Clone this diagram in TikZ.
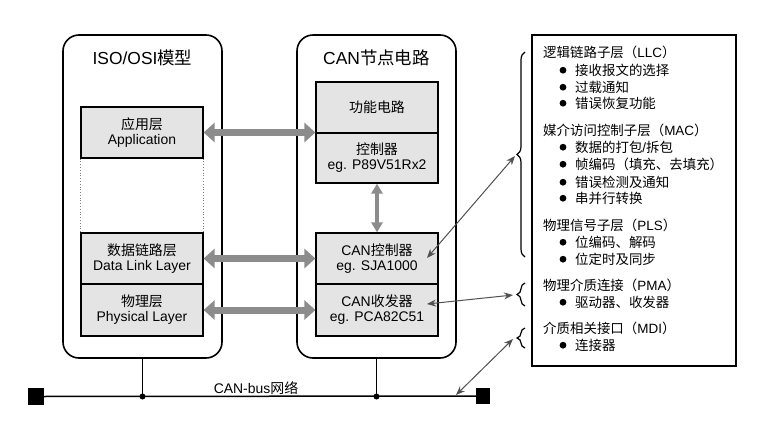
\documentclass[tikz,border=0pt]{standalone}
\usepackage{fontspec}
\setmainfont{Liberation Sans}
\newfontfamily\cjk{Noto Sans CJK SC}
\usetikzlibrary{arrows.meta,decorations.pathreplacing,calc}
\definecolor{boxgray}{HTML}{E4E4E4}
\definecolor{arrgray}{HTML}{8C8C8C}
\definecolor{thingray}{HTML}{505050}
\begin{document}
\begin{tikzpicture}[x=1bp,y=-1bp,
  outer/.style={draw,line width=1.6bp,rounded corners=16bp,minimum width=159bp,minimum height=323bp,inner sep=0},
  layer/.style={draw,line width=1.2bp,fill=boxgray,minimum width=122bp,inner sep=0,align=center,font=\fontsize{14}{15}\selectfont},
  ttl/.style={font=\fontsize{17.5}{20}\selectfont,inner sep=0,anchor=base},
  fat/.style={arrgray,line width=7bp,{Triangle[width=19bp,length=11bp]}-{Triangle[width=19bp,length=11bp]}},
  mid/.style={arrgray,line width=3.5bp,{Triangle[width=11bp,length=10bp]}-{Triangle[width=11bp,length=10bp]}},
  thin/.style={thingray,line width=1bp,{Stealth[length=9bp,width=7bp]}-{Stealth[length=9bp,width=7bp]}},
  brc/.style={decorate,decoration={brace,amplitude=8bp},line width=1.2bp},
  info/.style={font=\fontsize{13.5}{17}\selectfont,inner sep=0,anchor=base west},
  dot/.style={circle,fill,inner sep=0,minimum size=6bp},
  busend/.style={fill,inner sep=0},
]
\useasboundingbox (0,0) rectangle (760,424);

% outer containers
\node[outer] (osi) at (142.5,196.5) {};
\node[outer] (can) at (376.5,196.5) {};
\node[ttl] (osit) at (142.5,64) {ISO/OSI{\cjk 模型}};
\node[ttl] (cant) at (376.5,64) {CAN{\cjk 节点电路}};

% ISO/OSI layers
\node[layer,minimum height=51bp] (app) at (142,132.5) {{\cjk 应用层}\\Application};
\node[layer,minimum height=51bp] (dll) at (142,258.5) {{\cjk 数据链路层}\\Data Link Layer};
\node[layer,minimum height=52bp] (phy) at (142,310) {{\cjk 物理层}\\Physical Layer};
\draw[gray,dotted,line width=0.8bp] (app.south west) -- (dll.north west);
\draw[gray,dotted,line width=0.8bp] (app.south east) -- (dll.north east);

% CAN node blocks
\node[layer,minimum height=51bp] (func) at (377,107.5) {{\cjk 功能电路}};
\node[layer,minimum height=50bp] (ctrl) at (377,158) {{\cjk 控制器}\\eg. P89V51Rx2};
\node[layer,minimum height=51bp] (canc) at (377,258.5) {CAN{\cjk 控制器}\\eg. SJA1000};
\node[layer,minimum height=52bp] (cant2) at (377,310) {CAN{\cjk 收发器}\\eg. PCA82C51};

% thick gray arrows
\draw[fat] (app.east) -- (app.east -| func.west);
\draw[fat] (dll.east) -- (dll.east -| canc.west);
\draw[fat] (phy.east) -- (phy.east -| cant2.west);
\draw[mid] (ctrl.south) -- (canc.north);

% bus
\node[busend,minimum width=16bp,minimum height=17bp] (busL) at (36,396.5) {};
\node[busend,minimum width=14bp,minimum height=16bp] (busR) at (483,396) {};
\draw[line width=1.5bp] (busL) -- (busR);
\node[dot] (j1) at (osi.south |- busL.center) {};
\node[dot] (j2) at (can.south |- busL.center) {};
\draw[line width=1.5bp] (osi.south) -- (j1.center);
\draw[line width=1.5bp] (can.south) -- (j2.center);
\node[font=\fontsize{14}{16}\selectfont,inner sep=0,anchor=base] (buslbl) at (256,393.5) {CAN-bus{\cjk 网络}};

% right info box
\node[draw,line width=1.4bp,minimum width=204bp,minimum height=331bp,inner sep=0] (ibox) at (634,200.5) {};
\node[info] (t1) at (543,57) {{\cjk 逻辑链路子层（}LLC{\cjk ）}};
\node[info] (t2) at (575,75) {{\cjk 接收报文的选择}};
\node[info] (t3) at (575,92) {{\cjk 过载通知}};
\node[info] (t4) at (575,108) {{\cjk 错误恢复功能}};
\node[info] (t5) at (543,135) {{\cjk 媒介访问控制子层（}MAC{\cjk ）}};
\node[info] (t6) at (575,152) {{\cjk 数据的打包}/{\cjk 拆包}};
\node[info] (t7) at (575,169) {{\cjk 帧编码（填充、去填充）}};
\node[info] (t8) at (575,187) {{\cjk 错误检测及通知}};
\node[info] (t9) at (575,203) {{\cjk 串并行转换}};
\node[info] (t10) at (543,230) {{\cjk 物理信号子层（}PLS{\cjk ）}};
\node[info] (t11) at (575,247) {{\cjk 位编码、解码}};
\node[info] (t12) at (575,264) {{\cjk 位定时及同步}};
\node[info] (t13) at (543,290) {{\cjk 物理介质连接（}PMA{\cjk ）}};
\node[info] (t14) at (575,307) {{\cjk 驱动器、收发器}};
\node[info] (t15) at (543,333) {{\cjk 介质相关接口（}MDI{\cjk ）}};
\node[info] (t16) at (575,350) {{\cjk 连接器}};
\foreach \t in {t2,t3,t4,t6,t7,t8,t9,t11,t12,t14,t16}
  \fill ($(\t.base west)+(-12,-4.8)$) circle (3.4bp);

% braces
\draw[brc] (525,257) -- (525,52);
\draw[brc] (525,306) -- (525,283);
\draw[brc] (525,348) -- (525,328);
\coordinate (b1) at (515,156);
\coordinate (b2) at (513,295);
\coordinate (b3) at (513,339);
\coordinate (c1) at (427,258);
\coordinate (c2) at (427,304);
\coordinate (c3) at (456,395);

% thin arrows
\draw[thin] (c1) -- (b1);
\draw[thin] (c2) -- (b2);
\draw[thin] (c3) -- (b3);
\end{tikzpicture}
\end{document}
